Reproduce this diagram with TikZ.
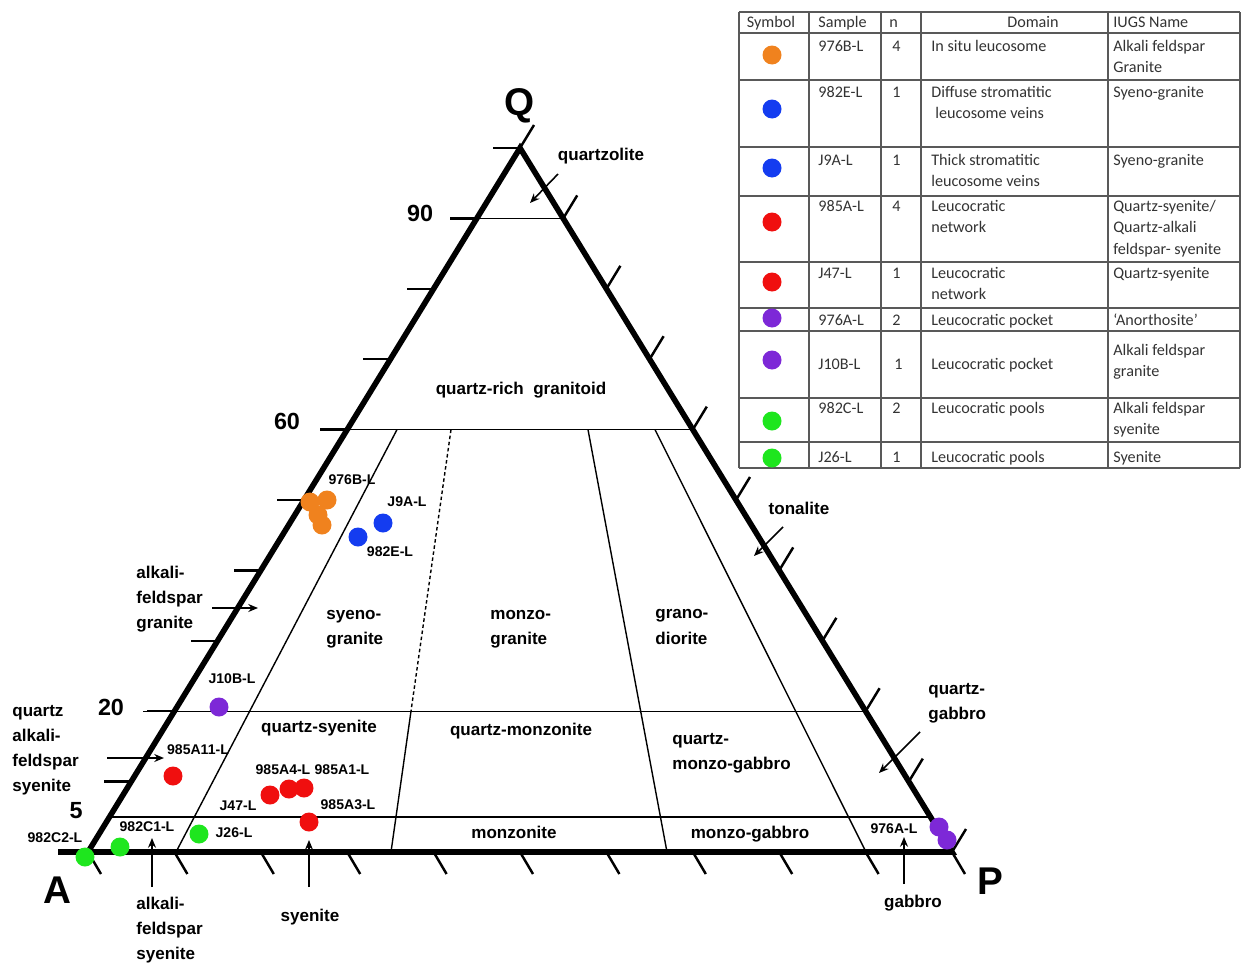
\documentclass[tikz,border=0pt]{standalone}
\usepackage{fontspec}
\setmainfont{Liberation Sans}
\newfontfamily\tabfont{Carlito}
\usepackage{tikz}
\usetikzlibrary{arrows.meta}

\definecolor{ptorange}{RGB}{240,130,30}
\definecolor{ptblue}{RGB}{20,60,240}
\definecolor{ptred}{RGB}{240,15,15}
\definecolor{ptpurple}{RGB}{125,40,215}
\definecolor{ptgreen}{RGB}{30,230,30}

% table cell whose first line sits on the baseline
\newcommand{\tcell}[1]{\begin{tabular}[t]{@{}l@{}}#1\end{tabular}}

\tikzset{
    axisline/.style={line width=3.2pt},
    tickmark/.style={line width=1.4pt},
    fieldline/.style={line width=0.8pt},
    pointer/.style={-{Stealth[length=5.5pt,width=4.5pt]}, line width=0.9pt},
    fieldlbl/.style={font=\bfseries\fontsize{9.7}{14.3}\selectfont, align=left, inner sep=0pt},
    smplbl/.style={font=\bfseries\fontsize{8}{9}\selectfont, inner sep=0pt},
    numlbl/.style={font=\bfseries\fontsize{13.3}{15}\selectfont, inner sep=0pt},
    apexlbl/.style={font=\bfseries\fontsize{22}{24}\selectfont, inner sep=0pt},
    tabline/.style={black!65, line width=0.6pt},
    tabtxt/.style={font=\tabfont\fontsize{9.2}{12.5}\selectfont, text=black!80, anchor=base west, inner sep=0pt}
}

\begin{document}
\begin{tikzpicture}[x=0.02cm, y=-0.02cm]
\useasboundingbox (0,0) rectangle (1241,967);

% QAP corners
\coordinate (A) at (88,852);
\coordinate (P) at (952,852);
\coordinate (Q) at (520,148);

% field boundaries
\draw[fieldline] (450,218.4) -- (563.2,218.4);
\draw[fieldline] (320,429.6) -- (692.8,429.6);
\draw[fieldline] (143,711.2) -- (865.6,711.2);
\draw[fieldline] (109.6,816.8) -- (930.4,816.8);
\draw[fieldline] (397,429.6) -- (176,852);
\draw[fieldline, dash pattern=on 2pt off 1.5pt] (451,429.6) -- (411,711.2);
\draw[fieldline] (411,711.2) -- (391,852);
\draw[fieldline] (588,429.6) -- (667,852);
\draw[fieldline] (655,429.6) -- (866,852);

% triangle
\draw[axisline] (58,852) -- (P) -- (Q) -- (A);

% scale ticks, every 10 %
\foreach \k in {0,...,10} {
    \pgfmathsetmacro{\lx}{88+43.2*\k}
    \pgfmathsetmacro{\rx}{952-43.2*\k}
    \pgfmathsetmacro{\ty}{852-70.4*\k}
    \pgfmathsetmacro{\bx}{88+86.4*\k}
    \draw[tickmark] (\lx,\ty) -- ++(-27,0);
    \draw[tickmark] (\rx,\ty) -- ++(14,-23);
    \draw[tickmark] (\bx,852) -- ++(13,22);
}

% corner and scale labels
\node[apexlbl] (lQ) at (520,106) {Q};
\node[apexlbl] (lA) at (57,890) {A};
\node[apexlbl] (lP) at (990,881) {P};
\node[numlbl] (n90) at (420,213) {90};
\node[numlbl] (n60) at (287,421) {60};
\node[numlbl] (n20) at (111,707) {20};
\node[numlbl] (n5) at (76,811) {5};

% field names
\node[fieldlbl] (qrg) at (521,390) {quartz-rich~~granitoid};
\node[fieldlbl] (qzl) at (601,156) {quartzolite};
\node[fieldlbl, anchor=west] (syg) at (326,629) {syeno-\\granite};
\node[fieldlbl, anchor=west] (mzg) at (490,629) {monzo-\\granite};
\node[fieldlbl, anchor=west] (grd) at (655,627) {grano-\\diorite};
\node[fieldlbl] (ton) at (799,508) {tonalite};
\node[fieldlbl] (qsy) at (319,728) {quartz-syenite};
\node[fieldlbl] (qmz) at (521,731) {quartz-monzonite};
\node[fieldlbl, anchor=west] (qmg) at (672,753) {quartz-\\monzo-gabbro};
\node[fieldlbl, anchor=west] (qgb) at (928,703) {quartz-\\gabbro};
\node[fieldlbl] (mzn) at (514,832) {monzonite};
\node[fieldlbl] (mgb) at (750,834) {monzo-gabbro};
\node[fieldlbl] (gab) at (913,903) {gabbro};
\node[fieldlbl] (sye) at (310,917) {syenite};
\node[fieldlbl, anchor=west] (afg) at (136,599) {alkali-\\feldspar\\granite};
\node[fieldlbl, anchor=west] (qafs) at (12,750) {quartz\\alkali-\\feldspar\\syenite};
\node[fieldlbl, anchor=west] (afs) at (136,930) {alkali-\\feldspar\\syenite};

% pointers to narrow fields
\coordinate (qzl-a) at (558,174);  \coordinate (qzl-b) at (530,203);
\coordinate (ton-a) at (783,527);  \coordinate (ton-b) at (754,556);
\coordinate (qgb-a) at (920,732);  \coordinate (qgb-b) at (879,773);
\coordinate (gab-a) at (904,884);  \coordinate (gab-b) at (904,837);
\coordinate (afg-a) at (212,608);  \coordinate (afg-b) at (258,608);
\coordinate (qafs-a) at (107,758); \coordinate (qafs-b) at (164,758);
\coordinate (afs-a) at (152,887);  \coordinate (afs-b) at (152,838);
\coordinate (sye-a) at (309,887);  \coordinate (sye-b) at (309,840);
\foreach \f in {qzl,ton,qgb,gab,afg,qafs,afs,sye}
    \draw[pointer] (\f-a) -- (\f-b);

% leucosome samples
\foreach \px/\py/\c in {310/502/ptorange, 327/500/ptorange, 318/515/ptorange, 322/525/ptorange,
    383/523/ptblue, 358/537/ptblue, 219/707/ptpurple, 173/776/ptred,
    270/795/ptred, 289/789/ptred, 304/788/ptred, 309/822/ptred,
    85/857/ptgreen, 120/847/ptgreen, 199/834/ptgreen, 939/827/ptpurple, 947/840/ptpurple}
    \fill[\c] (\px,\py) circle (0.19cm);

\node[smplbl] (l976b) at (352,480) {976B-L};
\node[smplbl] (lj9a) at (407,502) {J9A-L};
\node[smplbl] (l982e) at (390,552) {982E-L};
\node[smplbl] (lj10b) at (232,679) {J10B-L};
\node[smplbl] (l985a11) at (198,750) {985A11-L};
\node[smplbl] (l985a4) at (283,770) {985A4-L};
\node[smplbl] (l985a1) at (342,770) {985A1-L};
\node[smplbl] (lj47) at (238,806) {J47-L};
\node[smplbl] (l985a3) at (348,805) {985A3-L};
\node[smplbl] (l982c2) at (55,838) {982C2-L};
\node[smplbl] (l982c1) at (147,827) {982C1-L};
\node[smplbl] (lj26) at (234,833) {J26-L};
\node[smplbl] (l976a) at (894,829) {976A-L};

% sample table
\foreach \ry in {12,33,80,147,196,262,308,331,398,442,468}
    \draw[tabline] (739,\ry) -- (1240,\ry);
\foreach \rx in {739,809,881,921,1108,1240}
    \draw[tabline] (\rx,12) -- (\rx,468);

\node[tabtxt, anchor=base] (h-sym) at (771,27) {Symbol};
\node[tabtxt] (h-smp) at (818,27) {Sample};
\node[tabtxt] (h-n) at (889,27) {n};
\node[tabtxt, anchor=base] (h-dom) at (1033,27) {Domain};
\node[tabtxt] (h-iugs) at (1113,27) {IUGS Name};

\foreach \ry/\sm/\nn/\dm/\ig in {
    51/976B-L/4/{In situ leucosome}/{Alkali feldspar\\Granite},
    97/982E-L/1/{Diffuse stromatitic\\\hspace{0.25em}leucosome veins}/{Syeno-granite},
    165/J9A-L/1/{Thick stromatitic\\leucosome veins}/{Syeno-granite},
    211/985A-L/4/{Leucocratic\\network}/{Quartz-syenite/\\Quartz-alkali\\feldspar- syenite},
    278/J47-L/1/{Leucocratic\\network}/{Quartz-syenite},
    325/976A-L/2/{Leucocratic pocket}/{‘Anorthosite’},
    413/982C-L/2/{Leucocratic pools}/{Alkali feldspar\\syenite},
    462/J26-L/1/{Leucocratic pools}/{Syenite}} {
    \node[tabtxt] (s\ry) at (818,\ry) {\sm};
    \node[tabtxt] (n\ry) at (892,\ry) {\nn};
    \node[tabtxt] (d\ry) at (931,\ry) {\tcell{\dm}};
    \node[tabtxt] (i\ry) at (1113,\ry) {\tcell{\ig}};
}
\node[tabtxt] (s369) at (818,369) {J10B-L};
\node[tabtxt] (n369) at (894,369) {1};
\node[tabtxt] (d369) at (931,369) {Leucocratic pocket};
\node[tabtxt] (i369) at (1113,355) {\tcell{Alkali feldspar\\granite}};

\foreach \dy/\c in {55/ptorange, 109/ptblue, 168/ptblue, 222/ptred, 282/ptred,
    318/ptpurple, 360/ptpurple, 421/ptgreen, 458/ptgreen}
    \fill[\c] (772,\dy) circle (0.19cm);
\end{tikzpicture}
\end{document}
